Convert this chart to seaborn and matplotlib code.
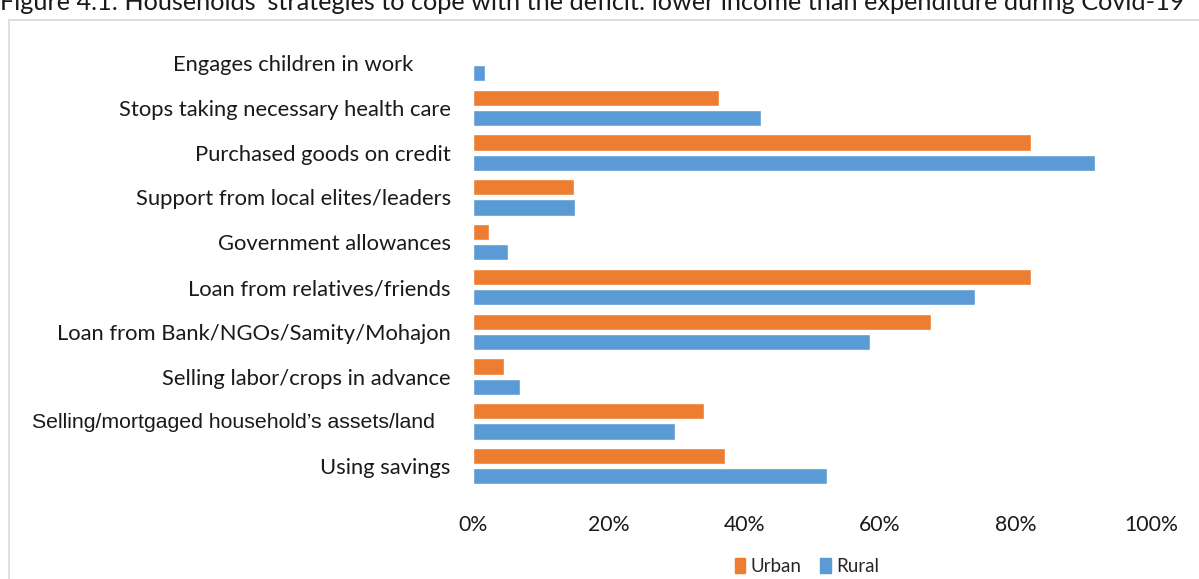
import numpy as np
import pandas as pd
import matplotlib.pyplot as plt
import matplotlib.transforms as mtransforms
from matplotlib.patches import Rectangle
import seaborn as sns

strategies = [
    "Engages children in work",
    "Stops taking necessary health care",
    "Purchased goods on credit",
    "Support from local elites/leaders",
    "Government allowances",
    "Loan from relatives/friends",
    "Loan from Bank/NGOs/Samity/Mohajon",
    "Selling labor/crops in advance",
    "Selling/mortgaged household\u2019s assets/land",
    "Using savings",
]
urban = [0.0, 36.3, 82.3, 14.9, 2.4, 82.3, 67.6, 4.6, 34.1, 37.2]
rural = [1.8, 42.5, 91.7, 15.0, 5.2, 74.0, 58.6, 6.9, 29.8, 52.2]
areas = ["Urban", "Rural"]
colors = ["#ED7D31", "#5B9BD5"]
xticks = [0, 20, 40, 60, 80, 100]

title = ("Figure 4.1: Households\u2019 strategies to cope with the deficit: "
         "lower income than expenditure during Covid-19")

df = pd.DataFrame({
    "strategy": strategies * 2,
    "value": urban + rural,
    "area": ["Urban"] * len(urban) + ["Rural"] * len(rural),
})

sns.set_style("white")
plt.rcParams["font.family"] = ["Lato", "DejaVu Sans"]

fig = plt.figure(figsize=(11.99, 5.79), dpi=100)
ax = fig.add_axes([0.3945, 0.156, 0.5655, 0.774])

sns.barplot(
    data=df, y="strategy", x="value", hue="area", order=strategies,
    hue_order=areas, palette=colors, saturation=1, orient="h",
    width=0.9, gap=0.2, ax=ax, legend=True,
)

ax.set_xlim(0, 100)
ax.set_ylim(9.5, -0.5)
ax.set_xticks(xticks)
ax.set_xticklabels([f"{t}%" for t in xticks])
ax.set_xlabel("")
ax.set_ylabel("")
for s in ax.spines.values():
    s.set_visible(False)
ax.tick_params(axis="x", length=0, pad=19, labelsize=15.3, labelcolor="#1a1a1a")
ax.tick_params(axis="y", length=0, pad=16, labelsize=15.8, labelcolor="#1a1a1a")

# a couple of the category labels sit off the common right edge
labels = ax.get_yticklabels()
labels[0].set_transform(labels[0].get_transform() +
                        mtransforms.ScaledTranslation(-0.38, 0, fig.dpi_scale_trans))
labels[8].set_fontfamily("Liberation Sans")
labels[8].set_fontsize(15.3)
labels[8].set_transform(labels[8].get_transform() +
                        mtransforms.ScaledTranslation(-0.16, 0.01, fig.dpi_scale_trans))

ax.legend_.remove()
handles = [Rectangle((0, 0), 1, 1, color=c) for c in colors]
fig.legend(handles, areas, loc="center", bbox_to_anchor=(0.673, 0.022), ncol=2,
           frameon=False, fontsize=13.5, handlelength=0.55, handleheight=0.9,
           handletextpad=0.3, columnspacing=1.0, borderpad=0)

fig.patches.append(Rectangle((9 / 1199, -0.05), 1.1, 1 - 20 / 579 + 0.05,
                             transform=fig.transFigure, fill=False,
                             edgecolor="#d9d9d9", linewidth=1.2))
fig.text(0.0, 1 - 10 / 579, title, fontsize=18.2, va="baseline", ha="left",
         color="#1a1a1a")

fig.savefig("out.png", dpi=100)
